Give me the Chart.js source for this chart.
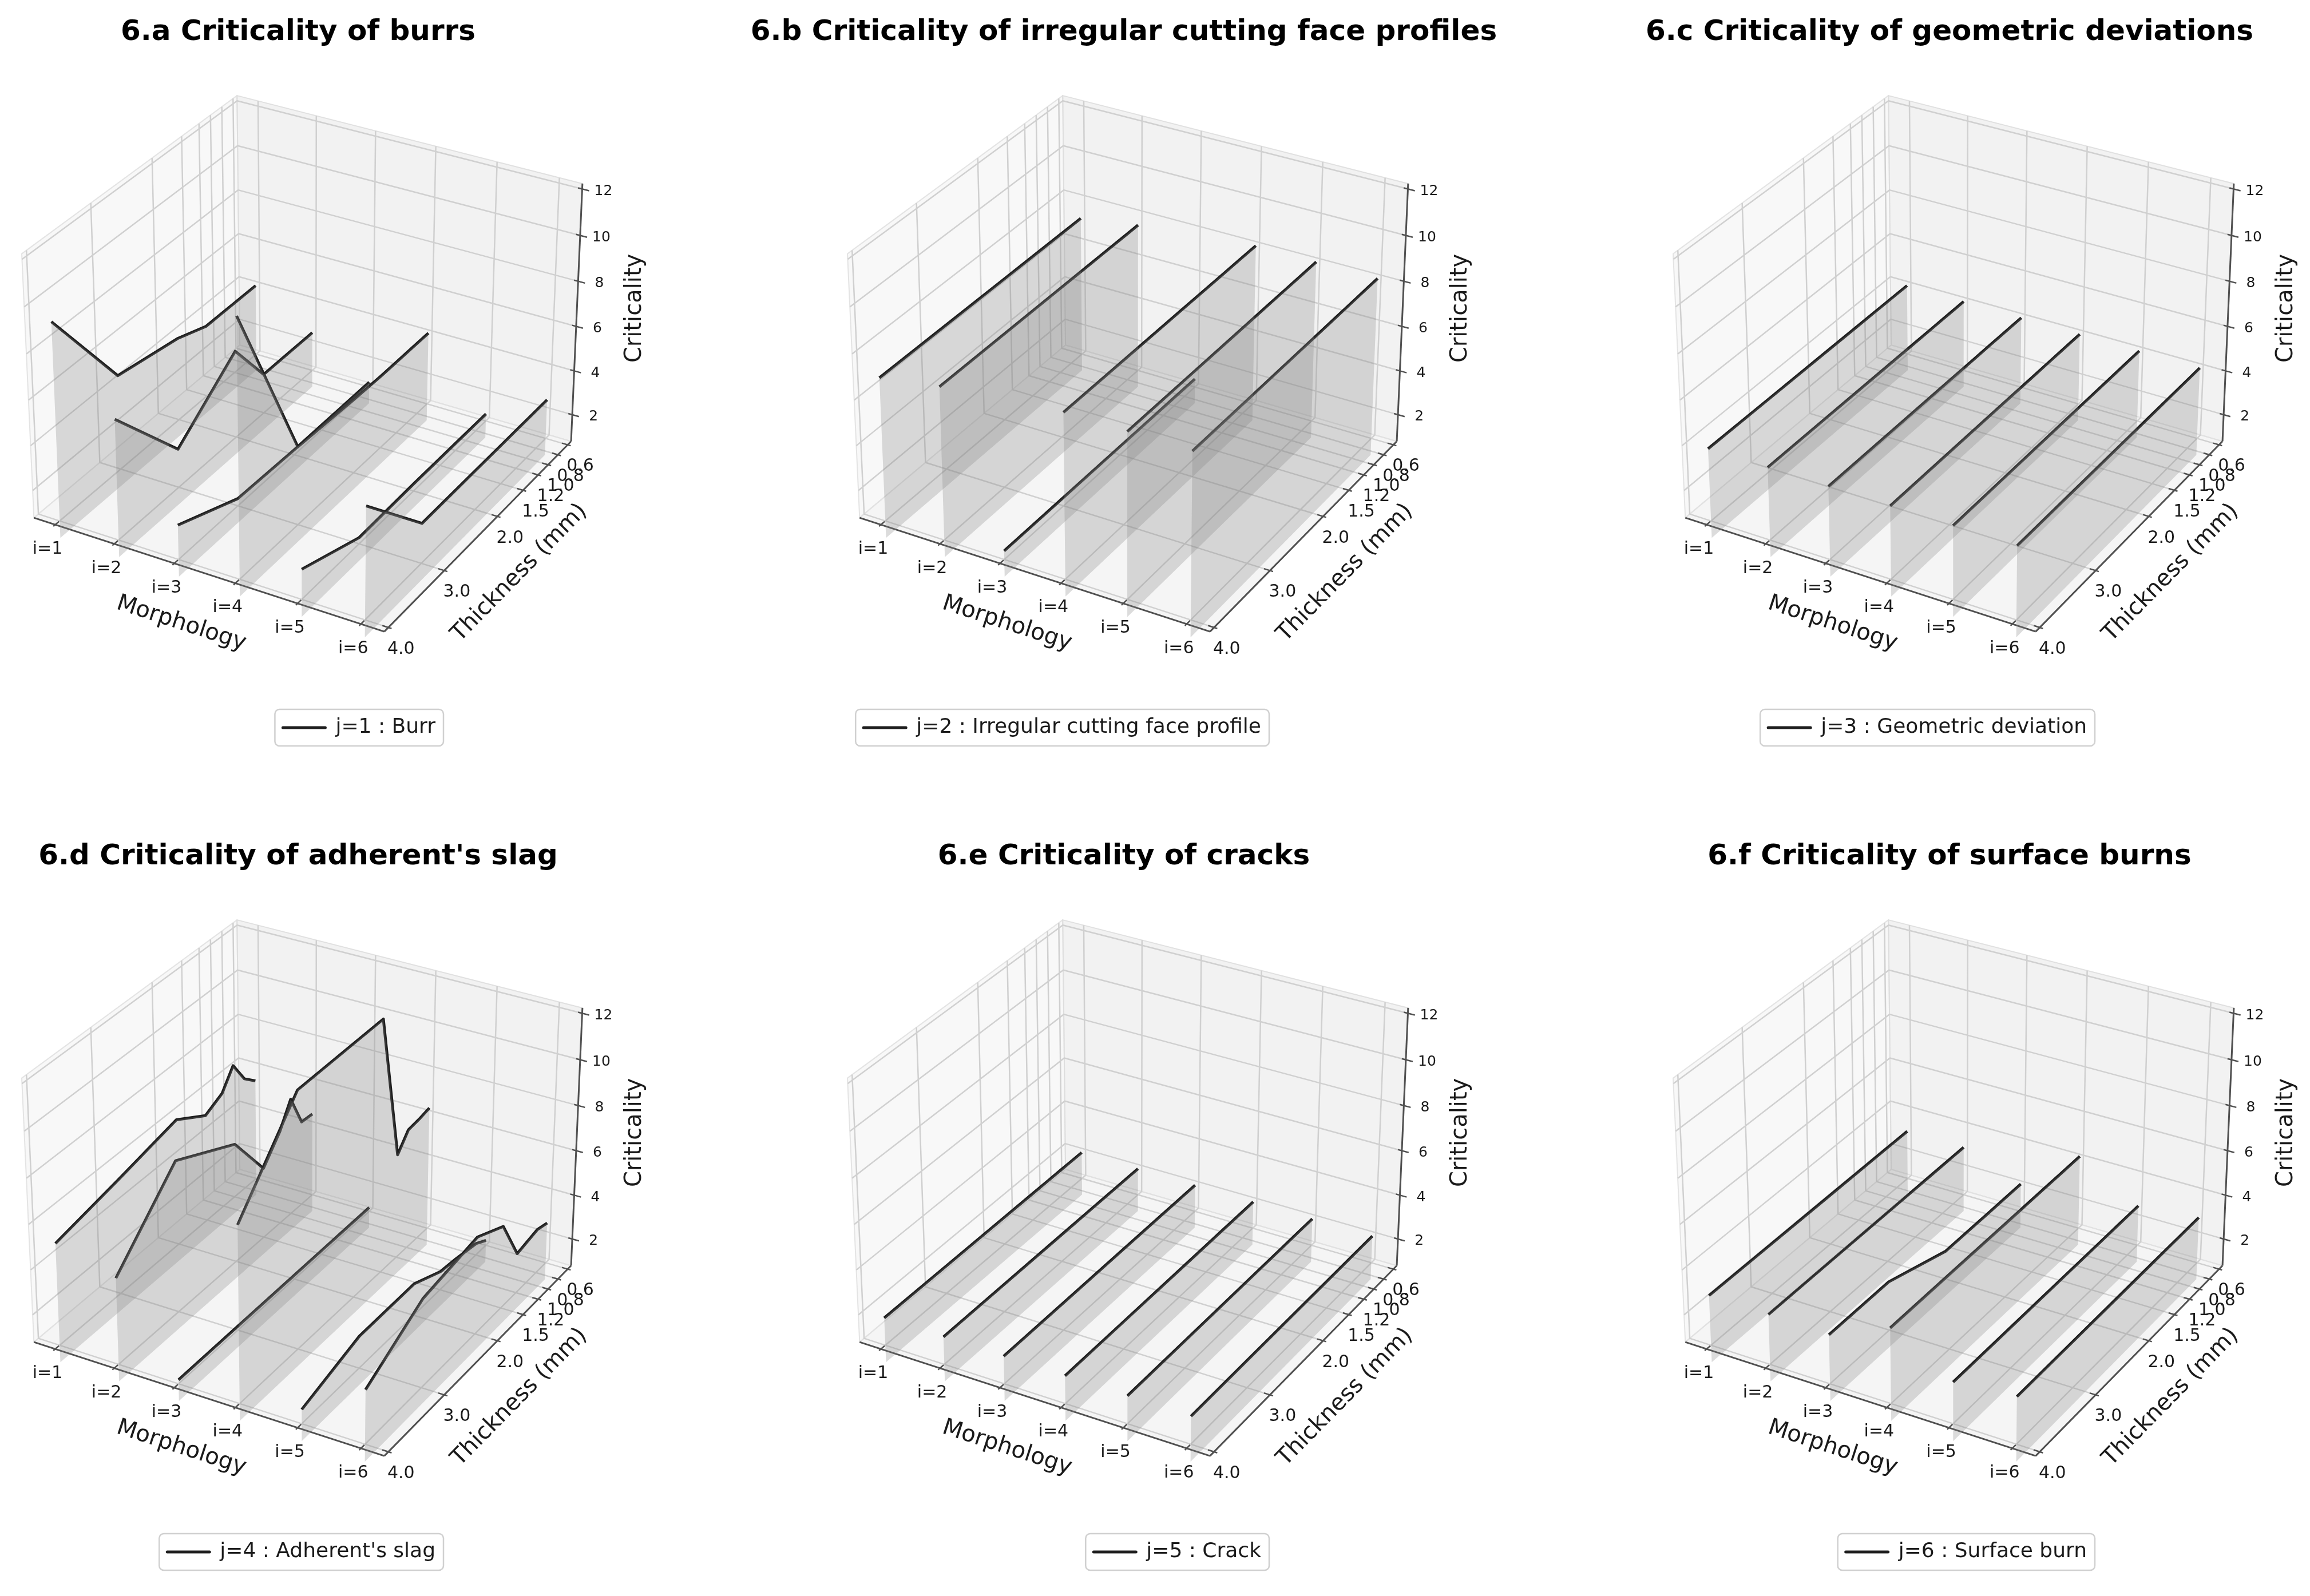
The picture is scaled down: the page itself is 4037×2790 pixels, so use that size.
<!DOCTYPE html>
<html>
<head>
<meta charset="utf-8">
<title>Criticality of cutting defects</title>
<script src="https://cdn.jsdelivr.net/npm/chart.js@4.4.1/dist/chart.umd.min.js"></script>
<style>
  html, body { margin: 0; padding: 0; background: #fff; overflow: hidden; }
  #page { position: relative; width: 4037px; height: 2790px; overflow: hidden; background: #fff; }
  .panel { position: absolute; }
</style>
</head>
<body>
<div id="page"></div>
<script>
// ---- axes: categories and ticks ----
const morphology = ['i=1', 'i=2', 'i=3', 'i=4', 'i=5', 'i=6'];
const morphology_pos = [1, 2, 3, 4, 5, 6];
const thickness = [4.0, 3.0, 2.0, 1.5, 1.2, 1.0, 0.8, 0.6];
const thickness_labels = ['4.0', '3.0', '2.0', '1.5', '1.2', '1.0', '0.8', '0.6'];
const criticality_ticks = [2, 4, 6, 8, 10, 12];

// ---- criticality, one row per morphology (i=1..6), one value per thickness (4.0 -> 0.6 mm) ----
const burr = [
    [9.5, 5.0, 4.5, 4.0, 4.0, 4.0, 4.0, 4.0],
    [6.1, 2.5, 4.7, 2.55, 2.55, 2.55, 2.55, 2.55],
    [2.3, 1.1, 1.0, 1.0, 1.0, 1.0, 1.0, 1.0],
    [12.0, 4.25, 4.1, 4.05, 4.05, 4.05, 4.05, 4.05],
    [2.1, 1.05, 1.1, 1.1, 1.1, 1.1, 1.1, 1.1],
    [5.7, 2.55, 2.55, 2.55, 2.55, 2.55, 2.55, 2.55]
];
const irregular_face = [
    [7.1, 7.1, 7.1, 7.1, 7.1, 7.1, 7.1, 7.1],
    [7.5, 7.5, 7.5, 7.5, 7.5, 7.5, 7.5, 7.5],
    [1.15, 1.15, 1.15, 1.15, 1.15, 1.15, 1.15, 1.15],
    [8, 8, 8, 8, 8, 8, 8, 8],
    [8, 8, 8, 8, 8, 8, 8, 8],
    [8, 8, 8, 8, 8, 8, 8, 8]
];
const geometric_deviation = [
    [4, 4, 4, 4, 4, 4, 4, 4],
    [4, 4, 4, 4, 4, 4, 4, 4],
    [4, 4, 4, 4, 4, 4, 4, 4],
    [4, 4, 4, 4, 4, 4, 4, 4],
    [4, 4, 4, 4, 4, 4, 4, 4],
    [4, 4, 4, 4, 4, 4, 4, 4]
];
const adherent_slag = [
    [5.3, 5.85, 6.45, 5.6, 6.0, 6.85, 5.85, 5.35],
    [4.6, 7.5, 6.1, 3.95, 5.0, 6.05, 4.6, 4.55],
    [0.95, 0.95, 0.95, 0.95, 0.95, 0.95, 0.95, 0.95],
    [8.5, 12.0, 12.0, 12.0, 5.45, 6.15, 6.2, 6.3],
    [1.4, 2.2, 2.2, 1.6, 1.5, 1.4, 1.3, 1.0],
    [3.15, 4.7, 5.1, 4.45, 2.55, 2.65, 2.75, 2.6]
];
const crack = [
    [2.0, 2.0, 2.0, 2.0, 2.0, 2.0, 2.0, 2.0],
    [2.0, 2.0, 2.0, 2.0, 2.0, 2.0, 2.0, 2.0],
    [2.0, 2.0, 2.0, 2.0, 2.0, 2.0, 2.0, 2.0],
    [2.0, 2.0, 2.0, 2.0, 2.0, 2.0, 2.0, 2.0],
    [2.0, 2.0, 2.0, 2.0, 2.0, 2.0, 2.0, 2.0],
    [2.0, 2.0, 2.0, 2.0, 2.0, 2.0, 2.0, 2.0]
];
const surface_burn = [
    [3.0, 3.0, 3.0, 3.0, 3.0, 3.0, 3.0, 3.0],
    [3.0, 3.0, 3.0, 3.0, 3.0, 3.0, 3.0, 3.0],
    [2.95, 2.95, 2.05, 2.05, 2.05, 2.05, 2.05, 2.05],
    [4.1, 4.1, 4.1, 4.1, 4.1, 4.1, 4.1, 4.1],
    [2.6, 2.6, 2.6, 2.6, 2.6, 2.6, 2.6, 2.6],
    [2.85, 2.85, 2.85, 2.85, 2.85, 2.85, 2.85, 2.85]
];

const titles = [
    '6.a Criticality of burrs',
    '6.b Criticality of irregular cutting face profiles',
    '6.c Criticality of geometric deviations',
    "6.d Criticality of adherent's slag",
    '6.e Criticality of cracks',
    '6.f Criticality of surface burns'
];
const legend_labels = [
    'j=1 : Burr',
    'j=2 : Irregular cutting face profile',
    'j=3 : Geometric deviation',
    "j=4 : Adherent's slag",
    'j=5 : Crack',
    'j=6 : Surface burn'
];
const panel_values = [burr, irregular_face, geometric_deviation, adherent_slag, crack, surface_burn];

// ---- 3d view (matplotlib default camera) ----
const X_LIM = [0.635, 6.365];     // drawn box, morphology
const T_LIM = [4.071, 0.529];     // drawn box, thickness (front -> back)
const Z_LIM = [0.771, 12.229];    // drawn box, criticality
const FILL_BASE = 0;
const ELEV = 30, AZIM = -60, DIST = 10;

// ---- layout of a panel (px) ----
const CELL_W = 1443, CELL_H = 1441;
const CANVAS_L = -214, CANVAS_W = 1470, CANVAS_H = 1312;   // canvas centred on the title
const SCALE = 6140, ORIGIN_X = 537, ORIGIN_Y = 614;
const LEGEND_RIGHT = 771;
const PAD_B = 12;

const FONT = '"DejaVu Sans", "Liberation Sans", sans-serif';
const TEXT_COLOR = '#1a1a1a';
const LINE_COLOR = '#1e1e1e';
const FILL_COLOR = 'rgba(128,128,128,0.28)';
const GRID_COLOR = '#d0d0d0';
const AXIS_COLOR = '#505050';

const dot = (a, b) => a[0] * b[0] + a[1] * b[1] + a[2] * b[2];
const sub = (a, b) => [a[0] - b[0], a[1] - b[1], a[2] - b[2]];
const cross = (a, b) => [a[1] * b[2] - a[2] * b[1], a[2] * b[0] - a[0] * b[2], a[0] * b[1] - a[1] * b[0]];
const unit = (a) => { const n = Math.hypot(a[0], a[1], a[2]); return [a[0] / n, a[1] / n, a[2] / n]; };

const aspect = [4, 4, 3].map((v) => v * 1.8294640721620434 / Math.hypot(4, 4, 3));
const camera = (() => {
    const e = ELEV * Math.PI / 180, a = AZIM * Math.PI / 180;
    const R = aspect.map((v) => v / 2);
    const E = [R[0] + DIST * Math.cos(e) * Math.cos(a), R[1] + DIST * Math.cos(e) * Math.sin(a), R[2] + DIST * Math.sin(e)];
    const n = unit(sub(E, R));
    const u = unit(cross([0, 0, 1], n));
    const v = cross(n, u);
    return { E, n, u, v };
})();

/**
 * Project a (morphology, thickness, criticality) point to the 2d view plane.
 */
function project(x, t, z) {
    const p = sub([
        (x - X_LIM[0]) / (X_LIM[1] - X_LIM[0]) * aspect[0],
        (T_LIM[0] - t) / (T_LIM[0] - T_LIM[1]) * aspect[1],
        (z - Z_LIM[0]) / (Z_LIM[1] - Z_LIM[0]) * aspect[2]
    ], camera.E);
    const w = -dot(camera.n, p);
    return { x: dot(camera.u, p) / w, y: dot(camera.v, p) / w };
}

function stroke_path(ctx, pts, color, width) {
    ctx.beginPath();
    pts.forEach((p, k) => k === 0 ? ctx.moveTo(p[0], p[1]) : ctx.lineTo(p[0], p[1]));
    ctx.strokeStyle = color;
    ctx.lineWidth = width;
    ctx.stroke();
}

function fill_poly(ctx, pts, fill, edge) {
    ctx.beginPath();
    pts.forEach((p, k) => k === 0 ? ctx.moveTo(p[0], p[1]) : ctx.lineTo(p[0], p[1]));
    ctx.closePath();
    ctx.fillStyle = fill;
    ctx.fill();
    ctx.strokeStyle = edge;
    ctx.lineWidth = 2;
    ctx.stroke();
}

function put_text(ctx, text, x, y, size, angle) {
    ctx.save();
    ctx.translate(x, y);
    ctx.rotate(angle || 0);
    ctx.font = `${size}px ${FONT}`;
    ctx.fillStyle = TEXT_COLOR;
    ctx.textAlign = 'center';
    ctx.textBaseline = 'middle';
    ctx.fillText(text, 0, 0);
    ctx.restore();
}

// keeps the projection at one px scale whatever room title and legend take
const fit_view = {
    id: 'fit_view',
    afterLayout(chart) {
        const area = chart.chartArea;
        const xs = chart.scales.x, ys = chart.scales.y;
        const ox = ORIGIN_X - CANVAS_L;
        xs.min = (area.left - ox) / SCALE;
        xs.max = (area.right - ox) / SCALE;
        xs.configure();
        ys.min = (ORIGIN_Y - area.bottom) / SCALE;
        ys.max = (ORIGIN_Y - area.top) / SCALE;
        ys.configure();
        if (chart.legend) {
            // right edge of the legend entry sits under the box, not at the canvas edge
            chart.legend.left = 0;
            chart.legend.right = LEGEND_RIGHT - CANVAS_L;
            chart.legend.width = chart.legend.right;
        }
    }
};

// panes, grid, axis lines, ticks and labels of the 3d box
const axes_3d = {
    id: 'axes_3d',
    beforeDraw(chart) {
        const ctx = chart.ctx;
        const xs = chart.scales.x, ys = chart.scales.y;
        const P = (x, t, z) => {
            const q = project(x, t, z);
            return [xs.getPixelForValue(q.x), ys.getPixelForValue(q.y)];
        };
        const [x0, x1] = X_LIM, [t0, t1] = T_LIM, [z0, z1] = Z_LIM;

        ctx.save();
        ctx.lineJoin = 'round';

        // panes
        fill_poly(ctx, [P(x0, t0, z0), P(x0, t1, z0), P(x0, t1, z1), P(x0, t0, z1)], 'rgba(242,242,242,0.5)', 'rgba(225,225,225,0.9)');
        fill_poly(ctx, [P(x0, t1, z0), P(x1, t1, z0), P(x1, t1, z1), P(x0, t1, z1)], 'rgba(229,229,229,0.5)', 'rgba(222,222,222,0.9)');
        fill_poly(ctx, [P(x0, t0, z0), P(x1, t0, z0), P(x1, t1, z0), P(x0, t1, z0)], 'rgba(236,236,236,0.5)', 'rgba(225,225,225,0.9)');

        // grid
        morphology_pos.forEach((x) => stroke_path(ctx, [P(x, t0, z0), P(x, t1, z0), P(x, t1, z1)], GRID_COLOR, 2.5));
        thickness.forEach((t) => stroke_path(ctx, [P(x1, t, z0), P(x0, t, z0), P(x0, t, z1)], GRID_COLOR, 2.5));
        criticality_ticks.forEach((z) => stroke_path(ctx, [P(x0, t0, z), P(x0, t1, z), P(x1, t1, z)], GRID_COLOR, 2.5));

        // axis lines
        stroke_path(ctx, [P(x0, t0, z0), P(x1, t0, z0)], AXIS_COLOR, 3);
        stroke_path(ctx, [P(x1, t0, z0), P(x1, t1, z0)], AXIS_COLOR, 3);
        stroke_path(ctx, [P(x1, t1, z0), P(x1, t1, z1)], AXIS_COLOR, 3);

        // ticks and tick labels
        morphology_pos.forEach((x, k) => {
            stroke_path(ctx, [P(x, t0 + 0.03, z0), P(x, t0 - 0.06, z0)], AXIS_COLOR, 2.5);
            const p = P(x, t0, z0);
            put_text(ctx, morphology[k], p[0] - 13.5, p[1] + 43, 30);
        });
        thickness.forEach((t, k) => {
            stroke_path(ctx, [P(x1 + 0.05, t, z0), P(x1 - 0.095, t, z0)], AXIS_COLOR, 2.5);
            const p = P(x1, t, z0);
            put_text(ctx, thickness_labels[k], p[0] + 22, p[1] + 38, 30);
        });
        criticality_ticks.forEach((z) => {
            stroke_path(ctx, [P(x1 - 0.065, t1, z), P(x1 + 0.11, t1, z)], AXIS_COLOR, 2.5);
            const p = P(x1, t1, z);
            put_text(ctx, String(z), p[0] + 37, p[1] + 4, 25);
        });

        // axis labels
        const a0 = P(x0, t0, z0), a1 = P(x1, t0, z0);
        const xm = P((x0 + x1) / 2, t0, z0);
        put_text(ctx, 'Morphology', xm[0] - 41, xm[1] + 88, 40, Math.atan2(a1[1] - a0[1], a1[0] - a0[0]));
        const b1 = P(x1, t1, z0);
        const ym = P(x1, (t0 + t1) / 2, z0);
        put_text(ctx, 'Thickness (mm)', ym[0] + 66, ym[1] + 71, 40, Math.atan2(b1[1] - a1[1], b1[0] - a1[0]));
        const zm = P(x1, t1, (z0 + z1) / 2);
        put_text(ctx, 'Criticality', zm[0] + 102, zm[1] - 12, 40, -Math.PI / 2);

        // legend frame
        const hb = chart.legend && chart.legend.legendHitBoxes && chart.legend.legendHitBoxes[0];
        if (hb) {
            const cy = hb.top + hb.height / 2;
            const left = hb.left - 14, right = hb.left + hb.width + 14;
            ctx.beginPath();
            ctx.roundRect(left, cy - 32, right - left, 64, 8);
            ctx.fillStyle = 'rgba(255,255,255,0.8)';
            ctx.fill();
            ctx.strokeStyle = '#d0d0d0';
            ctx.lineWidth = 2.5;
            ctx.stroke();
        }
        ctx.restore();
    }
};

/**
 * Build one panel: lines first, then the translucent polygons over them
 * (the order matplotlib uses for 3d collections).
 */
function add_panel(idx) {
    const col = idx % 3, row = Math.floor(idx / 3);
    const canvas = document.createElement('canvas');
    canvas.className = 'panel';
    canvas.width = CANVAS_W;
    canvas.height = CANVAS_H;
    canvas.style.left = (col * CELL_W + CANVAS_L) + 'px';
    canvas.style.top = (row * CELL_H) + 'px';
    canvas.style.width = CANVAS_W + 'px';
    canvas.style.height = CANVAS_H + 'px';
    document.querySelector('#page').appendChild(canvas);

    const values = panel_values[idx];
    let datasets = [];
    values.forEach((crit, i) => {
        const x = morphology_pos[i];
        const top = thickness.map((t, k) => project(x, t, crit[k]));
        const shape = top.concat([
            project(x, thickness[thickness.length - 1], FILL_BASE),
            project(x, thickness[0], FILL_BASE),
            top[0]
        ]);
        datasets.push({
            label: morphology[i] + ' area',
            data: shape,
            fill: 'shape',
            backgroundColor: FILL_COLOR,
            borderColor: 'rgba(0,0,0,0)',
            borderWidth: 0,
            pointRadius: 0,
            tension: 0,
            clip: false,
            order: 100 - i
        });
        datasets.push({
            label: i === 0 ? legend_labels[idx] : morphology[i],
            data: top,
            fill: false,
            borderColor: LINE_COLOR,
            backgroundColor: LINE_COLOR,
            borderWidth: 5,
            borderJoinStyle: 'round',
            pointRadius: 0,
            tension: 0,
            clip: false,
            order: 200 - i
        });
    });

    const ox = ORIGIN_X - CANVAS_L;
    const area_top = 27 + 60, area_bottom = CANVAS_H - PAD_B - 56;

    new Chart(canvas, {
        type: 'line',
        data: { datasets: datasets },
        options: {
            responsive: false,
            devicePixelRatio: 1,
            animation: false,
            events: [],
            layout: { padding: { left: 0, right: 0, top: 0, bottom: PAD_B } },
            scales: {
                x: { type: 'linear', display: false, min: -ox / SCALE, max: (CANVAS_W - ox) / SCALE },
                y: { type: 'linear', display: false, min: (ORIGIN_Y - area_bottom) / SCALE, max: (ORIGIN_Y - area_top) / SCALE }
            },
            plugins: {
                tooltip: { enabled: false },
                title: {
                    display: true,
                    text: titles[idx],
                    color: '#000',
                    font: { family: FONT, size: 50, weight: 'bold' },
                    padding: { top: 27, bottom: 0 }
                },
                legend: {
                    display: true,
                    position: 'bottom',
                    align: 'end',
                    labels: {
                        color: TEXT_COLOR,
                        font: { family: FONT, size: 36 },
                        boxWidth: 74,
                        boxHeight: 0.001,
                        padding: 10,
                        filter: (item) => item.datasetIndex === 1
                    }
                }
            }
        },
        plugins: [fit_view, axes_3d]
    });
}

window.onload = () => {
    for (let k = 0; k < 6; k++) {
        add_panel(k);
    }
};
</script>
</body>
</html>
